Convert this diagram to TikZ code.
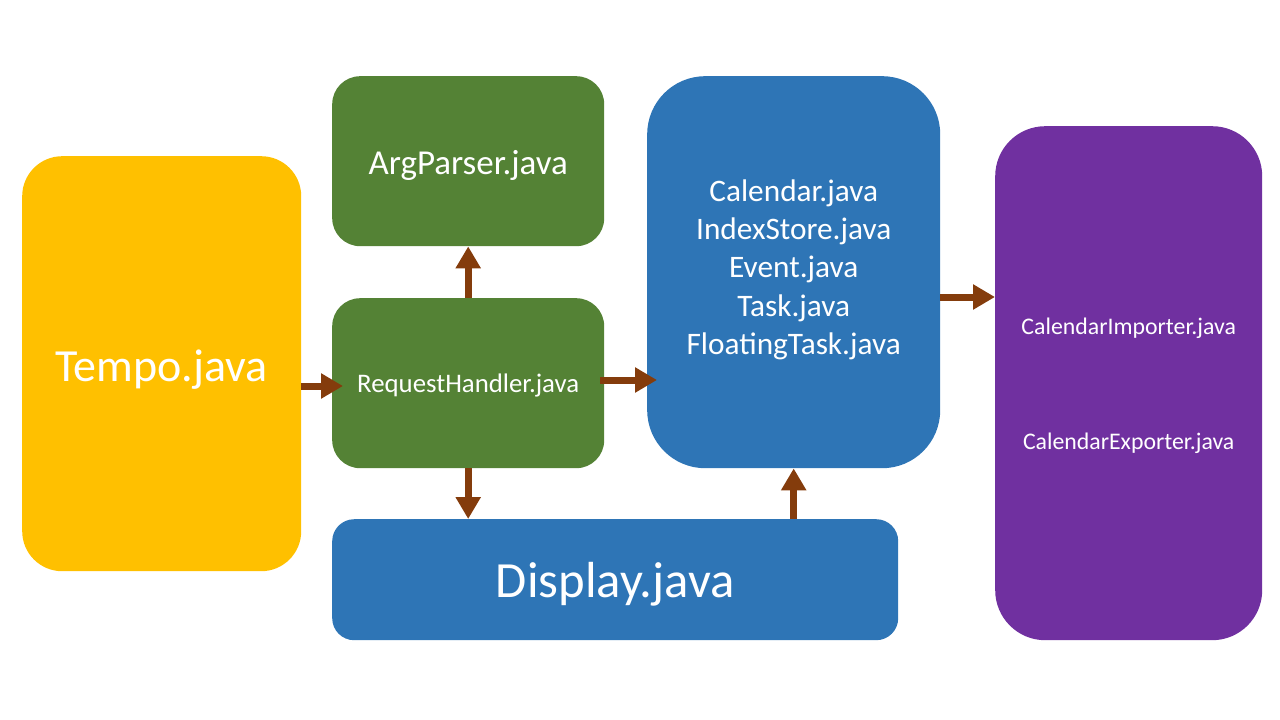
\documentclass[tikz,border=0pt]{standalone}
\usepackage{fontspec}
\setmainfont{Carlito}
\usetikzlibrary{arrows.meta}
\definecolor{cyellow}{HTML}{FFC000}
\definecolor{cgreen}{HTML}{548235}
\definecolor{cblue}{HTML}{2E75B6}
\definecolor{cpurple}{HTML}{7030A0}
\definecolor{cbrown}{HTML}{843C0C}
\tikzset{
  box/.style={anchor=north west, inner sep=0pt},
  txt/.style={inner sep=0pt, text=white, align=center},
  arr/.style={draw=cbrown, line width=7pt, -{Triangle[width=24pt,length=22pt]}, fill=cbrown},
}
\begin{document}
\begin{tikzpicture}[x=1pt,y=-1pt]
\useasboundingbox (0,0) rectangle (1280,720);
\node[box, fill=cyellow, rounded corners=40pt, minimum width=279pt, minimum height=415pt] (tempo) at (22,156) {};
\node[box, fill=cgreen, rounded corners=28pt, minimum width=272pt, minimum height=170pt] (arg) at (332,76) {};
\node[box, fill=cgreen, rounded corners=28pt, minimum width=272pt, minimum height=170pt] (rh) at (332,298) {};
\node[box, fill=cblue, rounded corners=58pt, minimum width=293pt, minimum height=392pt] (cal) at (647,76) {};
\node[box, fill=cblue, rounded corners=22pt, minimum width=566pt, minimum height=121pt] (disp) at (332,519) {};
\node[box, fill=cpurple, rounded corners=50pt, minimum width=267pt, minimum height=514pt] (purp) at (995,126) {};
\node[txt, font=\fontsize{46}{50}\selectfont, yshift=-6pt] (tempot) at (tempo.center) {Tempo.java};
\node[txt, font=\fontsize{35}{40}\selectfont, yshift=-4pt] (argt) at (arg.center) {ArgParser.java};
\node[txt, font=\fontsize{26.8}{30}\selectfont, yshift=-2pt] (rht) at (rh.center) {RequestHandler.java};
\node[txt, font=\fontsize{31.3}{38.3}\selectfont, yshift=2.5pt] (calt) at (cal.center) {Calendar.java\\IndexStore.java\\Event.java\\Task.java\\FloatingTask.java};
\node[txt, font=\fontsize{50.7}{55}\selectfont, yshift=-5pt] (dispt) at (disp.center) {Display.java};
\node[txt, font=\fontsize{23.8}{115}\selectfont, yshift=-3pt] (purpt) at (purp.center) {CalendarImporter.java\\CalendarExporter.java};
\draw[arr] (tempo.east |- 0,386) -- ([xshift=11pt]rh.west |- 0,386);
\draw[arr] (rh.north) -- (arg.south);
\draw[arr] (rh.south) -- (disp.north -| rh.south);
\draw[arr] ([xshift=-4pt]rh.east |- 0,380) -- ([xshift=10pt]cal.west |- 0,380);
\draw[arr] (disp.north -| cal.south) -- (cal.south);
\draw[arr] (cal.east |- 0,297) -- (purp.west |- 0,297);
\end{tikzpicture}
\end{document}
